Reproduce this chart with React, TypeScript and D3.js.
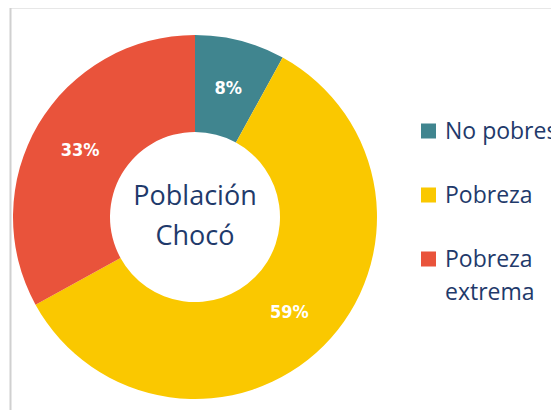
import { useEffect, useRef } from "react";
import * as d3 from "d3";

// data
const categories = ["No pobres", "Pobreza", "Pobreza extrema"];
const values = [8, 59, 33];
const legendLines = [["No pobres"], ["Pobreza"], ["Pobreza", "extrema"]];
const centerLines = ["Población", "Chocó"];

const COLORS = ["#40858F", "#FAC800", "#E9533B"];
const TEXT = "#1F3A6B";

export default function App() {
  const ref = useRef<SVGSVGElement>(null);

  useEffect(() => {
    if (!ref.current) return;
    const svg = d3.select(ref.current);
    svg.selectAll("*").remove();

    const W = 559;
    const H = 418;
    svg.attr("width", W).attr("height", H);

    // frame
    svg
      .append("path")
      .attr("d", `M10.5,${H} V7.5 H${W}`)
      .attr("fill", "none")
      .attr("stroke", "#d0d0d0")
      .attr("stroke-width", 2);

    const cx = 195;
    const cy = 217;
    const outer = 182;
    const inner = 85;

    const pie = d3
      .pie<number>()
      .sort(null)
      .value((d) => d);
    const arcs = pie(values);
    const arc = d3
      .arc<d3.PieArcDatum<number>>()
      .innerRadius(inner)
      .outerRadius(outer);

    const g = svg.append("g").attr("transform", `translate(${cx},${cy})`);

    g.selectAll("path.slice")
      .data(arcs)
      .join("path")
      .attr("class", "slice")
      .attr("d", arc)
      .attr("fill", (_, i) => COLORS[i]);

    // slice labels
    g.selectAll("text.lbl")
      .data(arcs)
      .join("text")
      .attr("class", "lbl")
      .attr("transform", (d) => {
        const [x, y] = arc.centroid(d);
        return `translate(${x},${y})`;
      })
      .attr("text-anchor", "middle")
      .attr("dy", "0.36em")
      .attr("font-family", "'DejaVu Sans Condensed', sans-serif")
      .attr("font-weight", 700)
      .attr("font-size", 18)
      .attr("fill", "#fff")
      .text((d) => `${d.data}%`);

    // center title
    g.selectAll("text.ctr")
      .data(centerLines)
      .join("text")
      .attr("class", "ctr")
      .attr("x", 0)
      .attr("y", (_, i) => -12 + i * 40)
      .attr("text-anchor", "middle")
      .attr("font-family", "'Open Sans', sans-serif")
      .attr("font-size", 27)
      .attr("fill", TEXT)
      .text((d) => d);

    // legend
    const legendY = d3
      .scalePoint<string>()
      .domain(categories)
      .range([131, 259]);

    const lg = svg
      .selectAll("g.leg")
      .data(categories)
      .join("g")
      .attr("class", "leg")
      .attr("transform", (d) => `translate(421,${legendY(d)})`);

    lg.append("rect")
      .attr("x", 0)
      .attr("y", -7.5)
      .attr("width", 15)
      .attr("height", 15)
      .attr("fill", (_, i) => COLORS[i]);

    lg.each(function (_, i) {
      const t = d3
        .select(this)
        .append("text")
        .attr("font-family", "'Open Sans', sans-serif")
        .attr("font-size", 23)
        .attr("fill", TEXT);
      legendLines[i].forEach((line, j) => {
        t.append("tspan")
          .attr("x", 24)
          .attr("y", 7.5 + j * 33)
          .text(line);
      });
    });
  }, []);

  return (
    <div style={{ margin: -8 }}>
      <svg ref={ref} style={{ display: "block" }} />
    </div>
  );
}
